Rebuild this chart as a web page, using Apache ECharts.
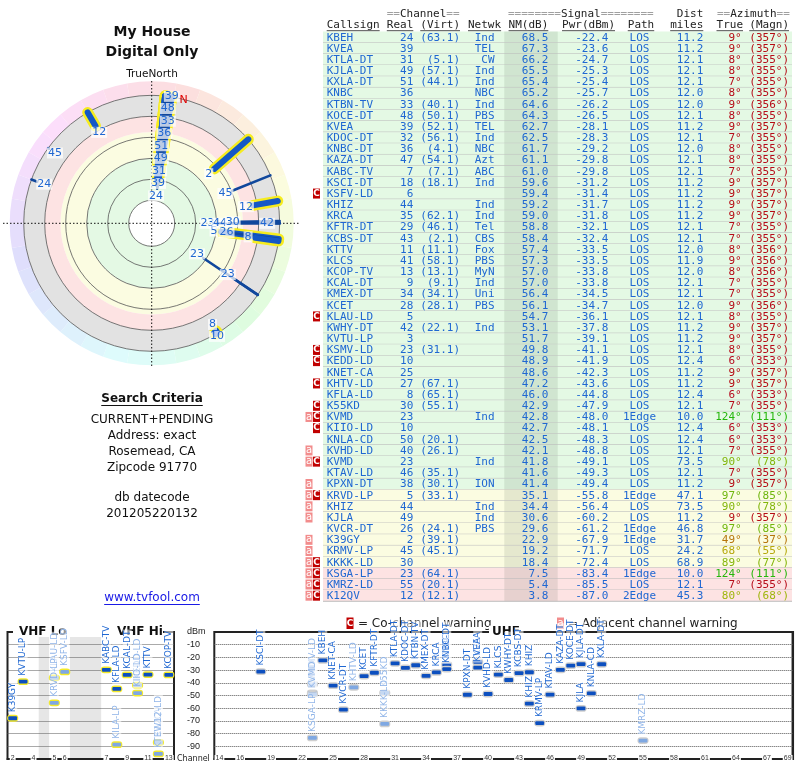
<!DOCTYPE html>
<html><head><meta charset="utf-8">
<script src="https://cdn.jsdelivr.net/npm/echarts@6/dist/echarts.min.js"></script>
<style>html,body{margin:0;padding:0;background:#fff}#c{width:800px;height:768px}</style>
</head><body><div id="c"></div><script>
// ---------------- DATA ----------------
const callsigns = ['KBEH','KVEA','KTLA-DT','KJLA-DT','KXLA-DT','KNBC','KTBN-TV','KOCE-DT','KVEA','KDOC-DT','KNBC-DT','KAZA-DT','KABC-TV','KSCI-DT','KSFV-LD','KHIZ','KRCA','KFTR-DT','KCBS-DT','KTTV','KLCS','KCOP-TV','KCAL-DT','KMEX-DT','KCET','KLAU-LD','KWHY-DT','KVTU-LP','KSMV-LD','KEDD-LD','KNET-CA','KHTV-LD','KFLA-LD','K55KD','KVMD','KIIO-LD','KNLA-CD','KVHD-LD','KVMD','KTAV-LD','KPXN-DT','KRVD-LP','KHIZ','KJLA','KVCR-DT','K39GY','KRMV-LP','KKKK-LD','KSGA-LP','KMRZ-LD','K12QV'];
const realChannels = [24,39,31,49,51,36,33,48,39,32,36,47,7,18,6,44,35,29,43,11,41,13,9,34,28,5,42,3,23,10,25,27,8,30,23,10,50,40,23,46,38,5,44,49,26,2,45,30,23,55,12];
const virtChannels = ['63.1','','5.1','57.1','44.1','','40.1','50.1','52.1','56.1','4.1','54.1','7.1','18.1','','','62.1','46.1','2.1','11.1','58.1','13.1','9.1','34.1','28.1','','22.1','','31.1','','','67.1','65.1','55.1','','','20.1','26.1','','35.1','30.1','33.1','','','24.1','39.1','45.1','','64.1','20.1','12.1'];
const networks = ['Ind','TEL','CW','Ind','Ind','NBC','Ind','PBS','TEL','Ind','NBC','Azt','ABC','Ind','','Ind','Ind','Tel','CBS','Fox','PBS','MyN','Ind','Uni','PBS','','Ind','','','','','','','','Ind','','','','Ind','','ION','','Ind','Ind','PBS','','','','','',''];
const noiseMargins = [68.5,67.3,66.2,65.5,65.4,65.2,64.6,64.3,62.7,62.5,61.7,61.1,61.0,59.6,59.4,59.2,59.0,58.8,58.4,57.4,57.3,57.0,57.0,56.4,56.1,54.7,53.1,51.7,49.8,48.9,48.6,47.2,46.0,42.9,42.8,42.7,42.5,42.1,41.8,41.6,41.4,35.1,34.4,30.6,29.6,22.9,19.2,18.4,7.5,5.4,3.8];
const powers = [-22.4,-23.6,-24.7,-25.3,-25.4,-25.7,-26.2,-26.5,-28.1,-28.3,-29.2,-29.8,-29.8,-31.2,-31.4,-31.7,-31.8,-32.1,-32.4,-33.5,-33.5,-33.8,-33.8,-34.5,-34.7,-36.1,-37.8,-39.1,-41.1,-41.9,-42.3,-43.6,-44.8,-47.9,-48.0,-48.1,-48.3,-48.8,-49.1,-49.3,-49.4,-55.8,-56.4,-60.2,-61.2,-67.9,-71.7,-72.4,-83.4,-85.5,-87.0];
const paths = ['LOS','LOS','LOS','LOS','LOS','LOS','LOS','LOS','LOS','LOS','LOS','LOS','LOS','LOS','LOS','LOS','LOS','LOS','LOS','LOS','LOS','LOS','LOS','LOS','LOS','LOS','LOS','LOS','LOS','LOS','LOS','LOS','LOS','LOS','1Edge','LOS','LOS','LOS','LOS','LOS','LOS','1Edge','LOS','LOS','1Edge','1Edge','LOS','LOS','1Edge','LOS','2Edge'];
const distances = [11.2,11.2,12.1,12.1,12.1,12.0,12.0,12.1,11.2,12.1,12.0,12.1,12.1,11.2,11.2,11.2,11.2,12.1,12.1,12.0,11.9,12.0,12.1,12.1,12.0,12.1,11.2,11.2,12.1,12.4,11.2,11.2,12.4,12.1,10.0,12.4,12.4,12.1,73.5,12.1,11.2,47.1,73.5,11.2,46.8,31.7,24.2,68.9,10.0,12.1,45.3];
const azTrue = [9,9,8,8,7,8,9,8,9,7,8,8,7,9,9,9,9,7,7,8,9,8,7,7,9,8,9,9,8,6,9,9,6,7,124,6,6,7,90,7,9,97,90,9,97,49,68,89,124,7,80];
const azMagn = [357,357,355,355,355,355,356,355,357,355,355,355,355,357,357,357,357,355,355,356,356,356,355,355,356,355,357,357,355,353,357,357,353,355,111,353,353,355,78,355,357,85,78,357,85,37,55,77,111,355,68];
const warnings = ['','','','','','','','','','','','','','','C','','','','','','','','','','','C','','','C','C','','C','','C','aC','C','','a','aC','','a','aC','a','a','','a','a','aC','aC','aC','aC'];

// weaker stations below the table cut-off (radar / spectrum only)
const extraCallsigns = ['KILA-LP','KTEW12-LD','','','','',''];
const extraChannels = [8,12,42,45,24,8,10];
const extraNM = [2.2,-5.1,-15,-19,-14,-17.5,-18];
const extraPwr = [-88.7,-96.0,null,null,null,null,null];
const extraAz = [98,330,90,306,290,149,150];
const extraWarnings = ['C','C','','','','',''];

// radar signal bands (NM dB) and axis tick labels
const bandTop = [80,40,15,0];
const bandBottom = [40,15,0,-20];
const VHF_CH = [2,3,4,5,6,7,8,9,10,11,12,13];
const VHF_SLOT = [0,1,2,4,5,9,10,11,12,13,14,15];
const vhfTickChannels = [2,4,5,6,7,9,11,13];
const uhfTickChannels = [14,16,19,22,25,28,31,34,37,40,43,46,49,52,55,58,61,64,67,69];

// ---------------- STYLE / LAYOUT ----------------
const BAND_COLORS = ['#e4f9e4','#fbfce1','#fde3e3','#e2e2e2'];
const BLUE = '#1f67d2';
const CX = 151.7, CY = 223.3;
const MONO = '11px "DejaVu Sans Mono", monospace';
const SANS = '"DejaVu Sans", sans-serif';
const MAG_DECL = 12;

const allCallsigns = callsigns.concat(extraCallsigns);
const allCh = realChannels.concat(extraChannels);
const allNM = noiseMargins.concat(extraNM);
const allPwr = powers.concat(extraPwr);
const allAz = azTrue.concat(extraAz);
const allWarn = warnings.concat(extraWarnings);
const N = allCh.length;

function bandIndex(nm){ for (let i=0;i<bandTop.length;i++){ if (nm >= bandBottom[i]) return i; } return 3; }
function azColor(m){ return 'hsl(' + m + ',88%,38%)'; }

// radar label layout (in NM units, so positions go through the radius axis)
const LABEL_IN = 7, LABEL_GAP = 12;
const labelNM = new Array(N);
(function(){
  const order = allNM.map((_, i) => i).sort((a, b) => allAz[a] - allAz[b]);
  const clusters = []; let cur = [];
  order.forEach(i => { if (cur.length && allAz[i] - allAz[cur[cur.length-1]] > 2) { clusters.push(cur); cur = []; } cur.push(i); });
  if (cur.length) clusters.push(cur);
  clusters.forEach(cl => {
    cl.sort((a, b) => allNM[b] - allNM[a]);
    let prev = Infinity;
    cl.forEach(i => { const v = Math.min(allNM[i] + LABEL_IN, prev - LABEL_GAP); labelNM[i] = v; prev = v; });
  });
})();

const ringColors = [];
for (let k = 0; k < 36; k++) ringColors.push('hsl(' + (((k*10+5) - MAG_DECL + 360) % 360) + ',85%,93%)');

// measurement helper for underlines
const mctx = document.createElement('canvas').getContext('2d');
function tw(text, font){ mctx.font = font; return mctx.measureText(text).width; }

// ---------------- SERIES ----------------
const radarIdx = [...Array(N).keys()];
const isVHF = i => allCh[i] <= 13;

const bandSeries = {
  type:'custom', coordinateSystem:'polar', polarIndex:0, z:1, silent:true,
  data: bandTop.map((t, i) => [t, 0, i]),
  renderItem(params, api){
    const i = params.dataIndex;
    const cy = params.coordSys.cy, cx = params.coordSys.cx;
    const r0 = cy - api.coord([bandTop[i], 0])[1];
    const r = cy - api.coord([bandBottom[i], 0])[1];
    return {type:'ring', shape:{cx, cy, r, r0}, style:{fill: BAND_COLORS[i]}};
  }
};
const haloSeries = {
  type:'custom', coordinateSystem:'polar', polarIndex:0, z:3, silent:true, clip:false,
  data: radarIdx.filter(isVHF).map(i => [allNM[i], allAz[i], i]),
  renderItem(params, api){
    const a = api.value(1);
    const p1 = api.coord([api.value(0), a]), p2 = api.coord([-20, a]);
    return {type:'line', shape:{x1:p1[0],y1:p1[1],x2:p2[0],y2:p2[1]}, style:{stroke:'#f6ec1f', lineWidth:11, lineCap:'round'}};
  }
};
const barSeries = {
  type:'custom', coordinateSystem:'polar', polarIndex:0, z:4, silent:true, clip:false,
  data: radarIdx.map(i => [allNM[i], allAz[i], i]),
  renderItem(params, api){
    const a = api.value(1), i = api.value(2);
    const p1 = api.coord([api.value(0), a]), p2 = api.coord([-20, a]);
    const v = isVHF(i);
    return {type:'line', shape:{x1:p1[0],y1:p1[1],x2:p2[0],y2:p2[1]}, style:{stroke: v ? '#1458c6' : '#10479c', lineWidth: v ? 6 : 2.6, lineCap:'round'}};
  }
};
const radarLabelSeries = {
  type:'custom', coordinateSystem:'polar', polarIndex:0, z:5, silent:true, clip:false,
  data: radarIdx.filter(i => labelNM[i] >= -25).map(i => [labelNM[i], allAz[i], i]),
  renderItem(params, api){
    const i = api.value(2);
    const p = api.coord([api.value(0), api.value(1)]);
    return {type:'text', style:{x:p[0], y:p[1], text:String(allCh[i]), align:'center', verticalAlign:'middle', font:'11px ' + SANS, fill:BLUE, backgroundColor:'rgba(255,255,255,0.72)', padding:[0,1]}};
  }
};

// spectrum
function markerRender(vhf){
  return function(params, api){
    const i = api.value(2);
    const p = api.coord([api.value(0), api.value(1)]);
    const faded = allWarn[i].indexOf('C') >= 0;
    return {type:'group', children:[
      {type:'rect', shape:{x:p[0]-5.6, y:p[1]-3.4, width:11.2, height:6.8, r:3.4}, style:{fill: vhf ? '#f4ea2a' : '#cfcfcf'}},
      {type:'rect', shape:{x:p[0]-4.4, y:p[1]-1.9, width:8.8, height:3.8, r:1}, style:{fill: faded ? '#7fa8e2' : '#0c4fbf'}},
      {type:'text', x:p[0], y:p[1]-5, rotation:Math.PI/2, style:{x:0, y:0, text: allCallsigns[i], align:'left', verticalAlign:'middle', font:'9px ' + SANS, fill: faded ? '#8fb4e8' : '#1f67d2', backgroundColor:'rgba(255,255,255,0.55)', padding:[0,1]}}
    ]};
  };
}
const specIdx = radarIdx.filter(i => allPwr[i] !== null && allPwr[i] >= -100);
const vhfData = specIdx.filter(isVHF).map(i => [VHF_SLOT[VHF_CH.indexOf(allCh[i])], allPwr[i], i]);
const uhfData = specIdx.filter(i => !isVHF(i)).map(i => [allCh[i], allPwr[i], i]);

const gaps = [];
for (let k = 1; k < VHF_SLOT.length; k++) if (VHF_SLOT[k] - VHF_SLOT[k-1] > 1) gaps.push([VHF_SLOT[k-1] + 0.5, VHF_SLOT[k] - 0.5, 0]);
const gapSeries = {
  type:'custom', xAxisIndex:0, yAxisIndex:0, z:1, silent:true, data: gaps,
  renderItem(params, api){
    const a = api.coord([api.value(0), 0]), b = api.coord([api.value(1), -100]);
    return {type:'rect', shape:{x:a[0], y:a[1]+5, width:b[0]-a[0], height:b[1]-a[1]-5}, style:{fill:'#e6e6e6'}};
  }
};

// table
const COL = {bg0:323, bg1:792, call:326.7, real:413.3, virt:460, net:494.5, nm:548.3, pwr:608.3, path:639.5, dist:703.3, tru:741.7, mag:789, shade0:504.3, shade1:557.7};
const tableSeries = {
  type:'custom', xAxisIndex:2, yAxisIndex:2, z:2, silent:true,
  data: callsigns.map((_, i) => [COL.bg0, i]),
  renderItem(params, api){
    const i = api.value(1);
    const yc = api.coord([COL.bg0, i])[1];
    const h = api.size([0, 1])[1];
    const X = px => api.coord([px, i])[0];
    const txt = (x, s, align, fill) => ({type:'text', style:{x:X(x), y:yc+0.5, text:s, align, verticalAlign:'middle', font:MONO, fill: fill || BLUE}});
    const c = [];
    c.push({type:'rect', shape:{x:X(COL.bg0), y:yc-h/2, width:X(COL.bg1)-X(COL.bg0), height:h}, style:{fill: BAND_COLORS[bandIndex(noiseMargins[i])]}});
    c.push({type:'rect', shape:{x:X(COL.shade0), y:yc-h/2, width:X(COL.shade1)-X(COL.shade0), height:h}, style:{fill:'rgba(40,60,40,0.1)'}});
    c.push({type:'line', shape:{x1:X(COL.bg0), y1:yc+h/2, x2:X(COL.bg1), y2:yc+h/2}, style:{stroke:'#bcbcbc', lineWidth:1}});
    const w = warnings[i];
    if (w.indexOf('a') >= 0) {
      c.push({type:'rect', shape:{x:X(305.5), y:yc-5, width:7, height:10}, style:{fill:'#f28c8c'}});
      c.push({type:'text', style:{x:X(309), y:yc, text:'a', align:'center', verticalAlign:'middle', font:'10px ' + SANS, fill:'#fff'}});
    }
    if (w.indexOf('C') >= 0) {
      c.push({type:'rect', shape:{x:X(313), y:yc-5, width:7, height:10}, style:{fill:'#c00000'}});
      c.push({type:'text', style:{x:X(316.5), y:yc, text:'C', align:'center', verticalAlign:'middle', font:'bold 9px ' + SANS, fill:'#fff'}});
    }
    c.push(txt(COL.call, callsigns[i], 'left'));
    c.push(txt(COL.real, String(realChannels[i]), 'right'));
    if (virtChannels[i]) c.push(txt(COL.virt, '(' + virtChannels[i] + ')', 'right'));
    if (networks[i]) c.push(txt(COL.net, networks[i], 'right'));
    c.push(txt(COL.nm, noiseMargins[i].toFixed(1), 'right'));
    c.push(txt(COL.pwr, powers[i].toFixed(1), 'right'));
    c.push(txt(COL.path, paths[i], 'center'));
    c.push(txt(COL.dist, distances[i].toFixed(1), 'right'));
    const col = azColor(azMagn[i]);
    c.push(txt(COL.tru, azTrue[i] + '°', 'right', col));
    c.push(txt(COL.mag, '(' + azMagn[i] + '°)', 'right', col));
    return {type:'group', children:c};
  }
};

// ---------------- GRAPHIC ----------------
const G = [];
function T(x, y, text, font, fill, align, z){ G.push({type:'text', z: z||1, style:{x, y, text, font, fill: fill||'#111', align: align||'left', verticalAlign:'middle'}}); }
function L(x1, y1, x2, y2, stroke, w, dash, z){ G.push({type:'line', z: z||1, silent:true, shape:{x1,y1,x2,y2}, style:{stroke, lineWidth:w, lineDash: dash||null}}); }
function R(x, y, w, h, fill, z){ G.push({type:'rect', z: z||1, shape:{x, y, width:w, height:h}, style:{fill}}); }

T(152, 32, 'My House', 'bold 14px ' + SANS, '#111', 'center');
T(152, 52, 'Digital Only', 'bold 14px ' + SANS, '#111', 'center');
T(152, 74, 'TrueNorth', '10.5px ' + SANS, '#111', 'center');
L(3, CY, 299, CY, '#111', 1, [1.5,2], 2.5);
L(CX, 81, CX, 367, '#111', 1, [1.5,2], 2.5);
T(183.5, 100, 'N', '11px ' + SANS, '#e00000', 'center', 6);

const scFont = 'bold 12px ' + SANS;
T(152, 399, 'Search Criteria', scFont, '#111', 'center');
let w0 = tw('Search Criteria', scFont); L(152 - w0/2, 405.5, 152 + w0/2, 405.5, '#111', 1);
const rf = '12px ' + SANS;
T(152, 420, 'CURRENT+PENDING', rf, '#111', 'center');
T(152, 436, 'Address: exact', rf, '#111', 'center');
T(152, 452, 'Rosemead, CA', rf, '#111', 'center');
T(152, 468, 'Zipcode 91770', rf, '#111', 'center');
T(152, 498, 'db datecode', rf, '#111', 'center');
T(152, 514, '201205220132', rf, '#111', 'center');
T(152, 598, 'www.tvfool.com', rf, '#1a1ae6', 'center');
w0 = tw('www.tvfool.com', rf); L(152 - w0/2, 604.5, 152 + w0/2, 604.5, '#1a1ae6', 1);

// table header
const HF = MONO;
function richHead(x, y, pre, word, post){
  G.push({type:'text', z:1, style:{x, y, text:'{g|' + pre + '}' + word + '{g|' + post + '}', font:HF, fill:'#222', align:'left', verticalAlign:'middle', rich:{g:{fill:'#a0a0a0', font:HF}}}});
}
richHead(386.7, 14, '==', 'Channel', '==');
richHead(508, 14, '========', 'Signal', '========');
T(703.3, 14, 'Dist', HF, '#222', 'right');
richHead(717, 14, '==', 'Azimuth', '==');
const heads = [['Callsign',326.7,'left'],['Real',413.3,'right'],['(Virt)',460,'right'],['Netwk',468,'left'],['NM(dB)',548.3,'right'],['Pwr(dBm)',615,'right'],['Path',641,'center'],['miles',703.3,'right'],['True',743,'right'],['(Magn)',789,'right']];
heads.forEach(h => {
  T(h[1], 25.5, h[0], HF, '#222', h[2]);
  const w = tw(h[0], HF);
  const x0 = h[2] === 'left' ? h[1] : (h[2] === 'right' ? h[1] - w : h[1] - w/2);
  L(x0, 30.8, x0 + w, 30.8, '#333', 1);
});

// legend
R(346.5, 617.5, 7, 11.5, '#c00000', 3);
T(350, 623.5, 'C', 'bold 9px ' + SANS, '#fff', 'center', 3);
T(358, 623.5, '= Co-channel warning', '12px ' + SANS, '#222', 'left', 3);
R(557, 617.5, 7, 11.5, '#f28c8c', 3);
T(560.5, 623, 'a', '10px ' + SANS, '#fff', 'center', 3);
T(568, 623.5, '= Adjacent channel warning', '12px ' + SANS, '#222', 'left', 3);

// spectrum frames
const SP_TOP = 632, SP_BOT = 759;
const VL = 7.5, VW = 166.5, UL = 214.3, UW = 578.5;
L(VL, SP_TOP, VL + VW, SP_TOP, '#222', 2, null, 2);
L(VL, SP_TOP - 1, VL, SP_BOT + 1, '#222', 2, null, 2);
L(VL + VW, SP_TOP - 1, VL + VW, SP_BOT + 1, '#222', 2, null, 2);
L(UL, SP_TOP, UL + UW, SP_TOP, '#222', 2, null, 2);
L(UL, SP_TOP - 1, UL, SP_BOT + 1, '#222', 2, null, 2);
L(UL + UW, SP_TOP - 1, UL + UW, SP_BOT + 1, '#222', 2.5, null, 2);
R(13, 625.5, 150, 11, '#fff', 3);
T(19, 632, 'VHF Lo', 'bold 12px ' + SANS, '#111', 'left', 3);
T(117, 632, 'VHF Hi', 'bold 12px ' + SANS, '#111', 'left', 3);
R(489, 625.5, 30, 11, '#fff', 3);
T(492, 632, 'UHF', 'bold 12px ' + SANS, '#111', 'left', 3);
T(177, 758.5, 'Channel', '8px ' + SANS, '#222', 'left', 3);

// ---------------- OPTION ----------------
const yAxisCommon = {type:'value', min:-100, max:0, interval:10, z:2,
  axisLine:{show:false, onZero:false}, axisTick:{show:false},
  splitLine:{show:true, showMinLine:false, showMaxLine:false, lineStyle:{type:'dotted', color:'#555', width:1}}};
const xLabelCommon = {fontSize:7, color:'#333', margin:-4, backgroundColor:'#fff', padding:[0,1], hideOverlap:false};

const option = {
  animation:false,
  backgroundColor:'#fff',
  polar:[{center:[CX, CY], radius:[23, 128]}, {center:[CX, CY], radius:[128, 142]}],
  angleAxis:[
    {polarIndex:0, type:'value', min:0, max:360, startAngle:90, clockwise:true, axisLine:{show:false}, axisTick:{show:false}, axisLabel:{show:false}, splitLine:{show:false}},
    {polarIndex:1, type:'value', min:0, max:360, interval:10, startAngle:90, clockwise:true, axisLine:{show:false}, axisTick:{show:false}, axisLabel:{show:false}, splitLine:{show:false}, splitArea:{show:true, areaStyle:{color:ringColors}}}
  ],
  radiusAxis:[
    {polarIndex:0, type:'value', min:-20, max:80, interval:20, inverse:true, z:2, axisLine:{show:false}, axisTick:{show:false}, axisLabel:{show:false}, splitLine:{show:true, lineStyle:{color:'#555', width:0.8}}},
    {polarIndex:1, type:'value', min:0, max:1, show:false}
  ],
  grid:[
    {left:VL, top:SP_TOP, width:VW, height:SP_BOT - SP_TOP},
    {left:UL, top:SP_TOP, width:UW, height:SP_BOT - SP_TOP},
    {left:305, top:31.6, width:490, height:51*11.17}
  ],
  xAxis:[
    {gridIndex:0, type:'value', min:-0.5, max:15.5, z:2, splitLine:{show:false}, axisTick:{show:false},
      axisLine:{show:true, onZero:false, lineStyle:{color:'#222', width:2}},
      axisLabel:Object.assign({customValues: vhfTickChannels.map(c => VHF_SLOT[VHF_CH.indexOf(c)]),
        formatter: v => { const k = VHF_SLOT.indexOf(v); return k >= 0 ? String(VHF_CH[k]) : ''; }}, xLabelCommon)},
    {gridIndex:1, type:'value', min:13.5, max:69.5, z:2, splitLine:{show:false}, axisTick:{show:false},
      axisLine:{show:true, onZero:false, lineStyle:{color:'#222', width:2}},
      axisLabel:Object.assign({customValues: uhfTickChannels, formatter: v => String(v)}, xLabelCommon)},
    {gridIndex:2, type:'value', min:305, max:795, show:false}
  ],
  yAxis:[
    Object.assign({gridIndex:0, position:'right', axisLabel:{show:true, fontSize:9, color:'#222', margin:13, align:'left',
      formatter: v => v === 0 ? 'dBm' : (v === -100 ? '' : String(v))}}, yAxisCommon),
    Object.assign({gridIndex:1, axisLabel:{show:false}}, yAxisCommon),
    {gridIndex:2, type:'value', min:-0.5, max:50.5, inverse:true, show:false}
  ],
  graphic:{elements:G},
  series:[
    bandSeries, haloSeries, barSeries, radarLabelSeries,
    gapSeries,
    {type:'custom', xAxisIndex:0, yAxisIndex:0, z:5, silent:true, clip:false, data:vhfData, renderItem:markerRender(true)},
    {type:'custom', xAxisIndex:1, yAxisIndex:1, z:5, silent:true, clip:false, data:uhfData, renderItem:markerRender(false)},
    tableSeries
  ]
};
const chart = echarts.init(document.getElementById('c'), null, {width:800, height:768});
chart.setOption(option);
</script></body></html>
